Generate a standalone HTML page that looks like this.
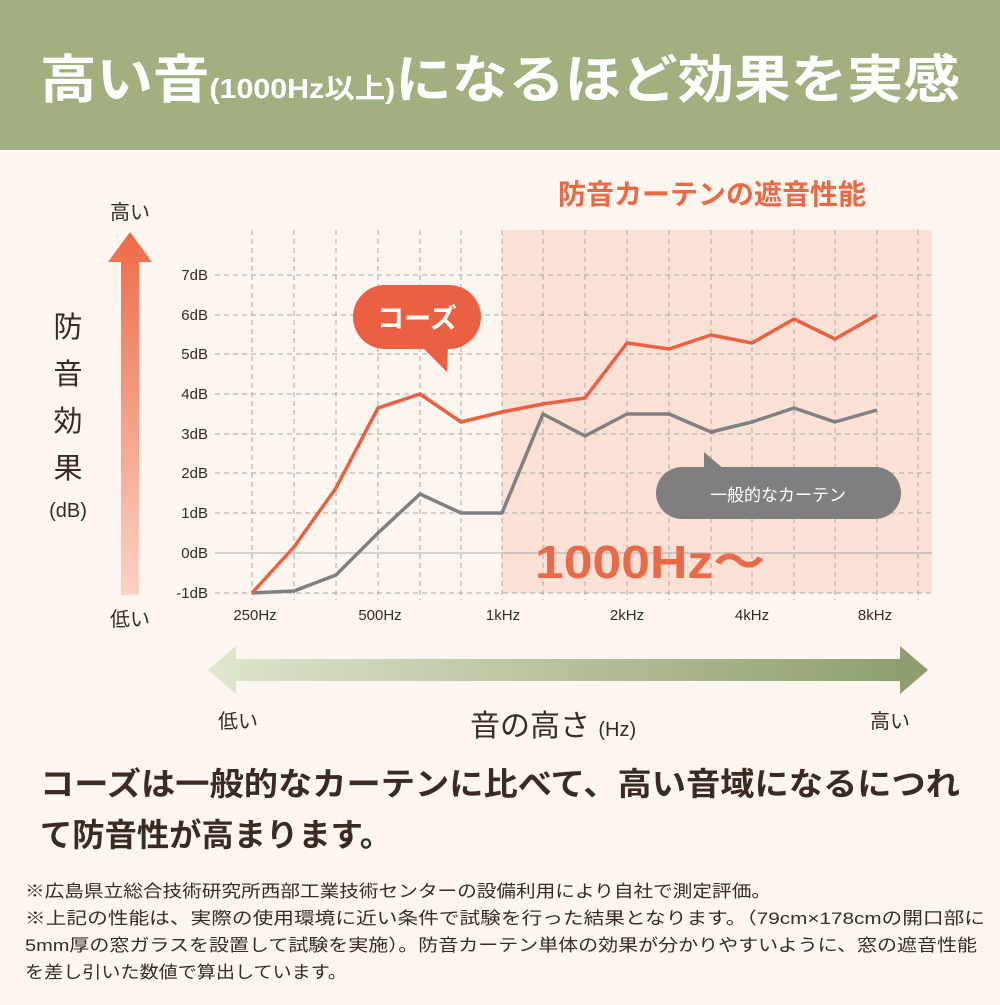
<!DOCTYPE html>
<html><head><meta charset="utf-8"><style>
body{margin:0;width:1000px;height:1000px;overflow:hidden;background:#fcf5f0;font-family:"Liberation Sans","Noto Sans CJK JP",sans-serif;}
</style></head><body>
<svg width="1000" height="1000" xmlns="http://www.w3.org/2000/svg" font-family="'Liberation Sans','Noto Sans CJK JP',sans-serif">
<defs>
<linearGradient id="va" x1="0" y1="0" x2="0" y2="1"><stop offset="0" stop-color="#ee6a48"/><stop offset="1" stop-color="#fbd3c6"/></linearGradient>
<linearGradient id="ha" x1="0" y1="0" x2="1" y2="0"><stop offset="0" stop-color="#dfe6cc"/><stop offset="1" stop-color="#8c9c6c"/></linearGradient>
</defs>
<rect width="1000" height="1000" fill="#fcf5f0"/>
<rect width="1000" height="150" fill="#a2b07f"/>
<text x="40" y="98" fill="#fff" font-weight="bold" font-size="52" textLength="920" lengthAdjust="spacingAndGlyphs">高い音<tspan font-size="28">(1000Hz以上)</tspan>になるほど効果を実感</text>
<rect x="502" y="230" width="430" height="363" fill="#fbe0d6"/>
<text x="712" y="204" text-anchor="middle" fill="#ea6a48" font-weight="bold" font-size="28">防音カーテンの遮音性能</text>
<g stroke="#a8a8a8" stroke-width="1" stroke-dasharray="5,4">
<line x1="215" y1="275" x2="932" y2="275"/><line x1="215" y1="315" x2="932" y2="315"/><line x1="215" y1="354" x2="932" y2="354"/><line x1="215" y1="394" x2="932" y2="394"/><line x1="215" y1="434" x2="932" y2="434"/><line x1="215" y1="473" x2="932" y2="473"/><line x1="215" y1="513" x2="932" y2="513"/><line x1="215" y1="593" x2="932" y2="593"/>
<line x1="252" y1="230" x2="252" y2="600"/><line x1="294" y1="230" x2="294" y2="600"/><line x1="336" y1="230" x2="336" y2="600"/><line x1="378" y1="230" x2="378" y2="600"/><line x1="420" y1="230" x2="420" y2="600"/><line x1="461" y1="230" x2="461" y2="600"/><line x1="502" y1="230" x2="502" y2="600"/><line x1="543" y1="230" x2="543" y2="600"/><line x1="585" y1="230" x2="585" y2="600"/><line x1="627" y1="230" x2="627" y2="600"/><line x1="669" y1="230" x2="669" y2="600"/><line x1="711" y1="230" x2="711" y2="600"/><line x1="752" y1="230" x2="752" y2="600"/><line x1="794" y1="230" x2="794" y2="600"/><line x1="835" y1="230" x2="835" y2="600"/><line x1="877" y1="230" x2="877" y2="600"/><line x1="918" y1="230" x2="918" y2="600"/>
</g>
<line x1="215" y1="553" x2="932" y2="553" stroke="#aaa" stroke-width="1"/>
<g font-size="15" fill="#3a2a22" text-anchor="end">
<text x="208" y="280">7dB</text><text x="208" y="320">6dB</text><text x="208" y="359">5dB</text><text x="208" y="399">4dB</text><text x="208" y="439">3dB</text><text x="208" y="478">2dB</text><text x="208" y="518">1dB</text><text x="208" y="558">0dB</text><text x="208" y="598">-1dB</text>
</g>
<g font-size="15" fill="#3a2a22" text-anchor="middle">
<text x="255" y="620">250Hz</text><text x="380" y="620">500Hz</text><text x="503" y="620">1kHz</text><text x="627" y="620">2kHz</text><text x="752" y="620">4kHz</text><text x="875" y="620">8kHz</text>
</g>
<text x="535" y="578" fill="#ea6a48" font-weight="bold" font-size="46" textLength="230" lengthAdjust="spacingAndGlyphs">1000Hz〜</text>
<polyline fill="none" stroke="#808080" stroke-width="3.5" stroke-linejoin="round" points="252,593 294,591 336,575 378,533 420,494 461,513 502,513 543,414 585,436 627,414 669,414 711,432 752,422 794,408 835,422 877,410"/>
<polyline fill="none" stroke="#ea6040" stroke-width="3.5" stroke-linejoin="round" points="252,593 294,547 336,488 378,408 420,394 461,422 502,412 543,404 585,398 627,343 669,349 711,335 752,343 794,319 835,339 877,315"/>
<rect x="353" y="285" width="128" height="64" rx="32" fill="#ea6040"/>
<polygon points="420,345 448,345 447,372" fill="#ea6040"/>
<text x="417" y="328" text-anchor="middle" fill="#fff" font-weight="bold" font-size="27">コーズ</text>
<rect x="656" y="467" width="245" height="52" rx="26" fill="#7f7f7f"/>
<polygon points="704,452 704,470 725,470" fill="#7f7f7f"/>
<text x="778" y="501" text-anchor="middle" fill="#fff" font-size="17">一般的なカーテン</text>
<polygon points="130,232 152,262 139,262 139,595 121,595 121,262 108,262" fill="url(#va)"/>
<g fill="#3a2a22" text-anchor="middle">
<text x="130" y="219" font-size="20">高い</text><text x="130" y="626" font-size="20">低い</text>
<text x="68" y="337" font-size="29">防</text><text x="68" y="384" font-size="29">音</text><text x="68" y="431" font-size="29">効</text><text x="68" y="478" font-size="29">果</text>
<text x="68" y="517" font-size="20">(dB)</text>
</g>
<polygon points="208,670 236,646 236,659 900,659 900,646 928,670 900,694 900,681 236,681 236,694" fill="url(#ha)"/>
<g fill="#3a2a22">
<text x="238" y="728" text-anchor="middle" font-size="20">低い</text>
<text x="890" y="728" text-anchor="middle" font-size="20">高い</text>
<text x="470" y="736" font-size="30">音の高さ <tspan font-size="20">(Hz)</tspan></text>
<text x="40" y="795" font-size="32" font-weight="bold" textLength="920" lengthAdjust="spacingAndGlyphs">コーズは一般的なカーテンに比べて、高い音域になるにつれ</text>
<text x="40" y="846" font-size="32" font-weight="bold" textLength="352" lengthAdjust="spacingAndGlyphs">て防音性が高まります。</text>
<g font-size="17">
<text x="25" y="897" textLength="746" lengthAdjust="spacingAndGlyphs">※広島県立総合技術研究所西部工業技術センターの設備利用により自社で測定評価。</text>
<text x="25" y="924" textLength="960" lengthAdjust="spacingAndGlyphs">※上記の性能は、実際の使用環境に近い条件で試験を行った結果となります。（79cm×178cmの開口部に</text>
<text x="25" y="951" textLength="952" lengthAdjust="spacingAndGlyphs">5mm厚の窓ガラスを設置して試験を実施）。防音カーテン単体の効果が分かりやすいように、窓の遮音性能</text>
<text x="25" y="978" textLength="322" lengthAdjust="spacingAndGlyphs">を差し引いた数値で算出しています。</text>
</g>
</g>
</svg>
</body></html>
